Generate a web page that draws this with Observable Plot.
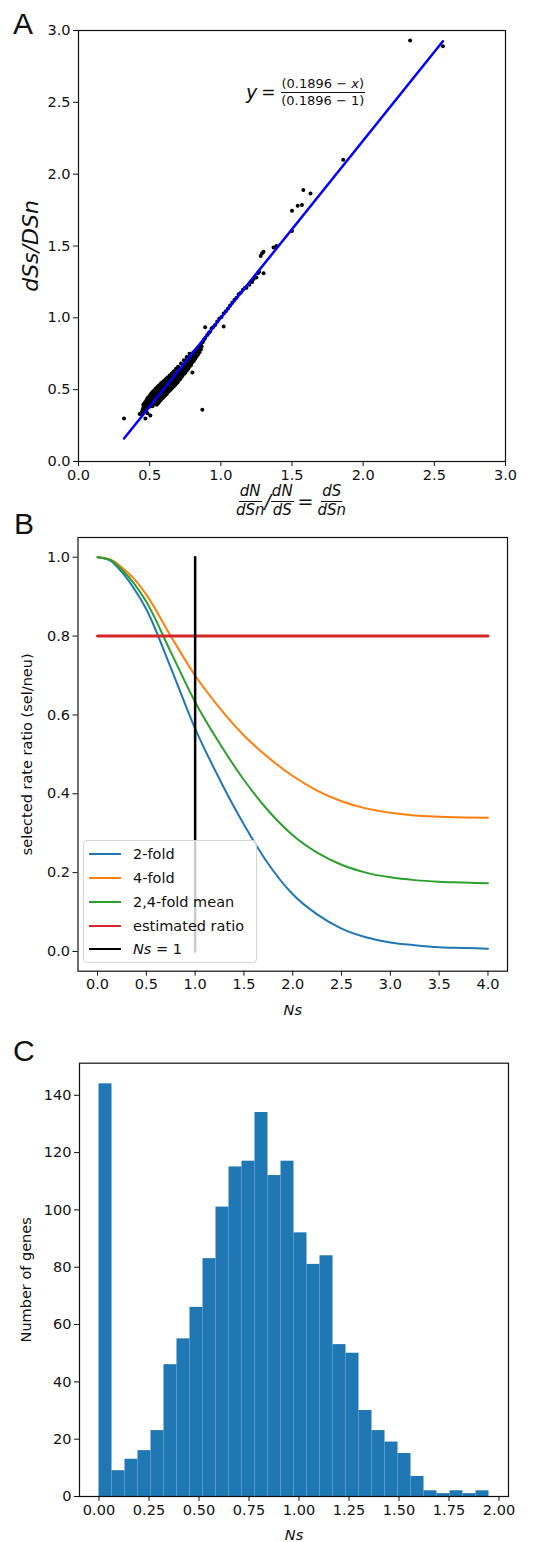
<!DOCTYPE html>
<html><head><meta charset="utf-8">
<script src="https://cdn.jsdelivr.net/npm/d3@7"></script>
<script src="https://cdn.jsdelivr.net/npm/@observablehq/plot@0.6"></script>
<style>
body{margin:0;background:#fff;}
#wrap{position:relative;width:533px;height:1542px;font-family:"DejaVu Sans",sans-serif;color:#111;overflow:hidden;}
.panel{position:absolute;left:0;}
.letter{position:absolute;font-family:"Liberation Sans",Arial,sans-serif;font-size:30px;line-height:1;color:#111;}
.frac{display:inline-flex;flex-direction:column;align-items:center;vertical-align:middle;}
.frac .n{border-bottom:1px solid #111;padding:0 1px 1px;line-height:1.05;}
.frac .d{padding-top:1px;line-height:1.05;}
.legend{position:absolute;left:83px;top:840px;width:172px;height:121px;border:1px solid #d4d4d4;border-radius:4px;background:rgba(255,255,255,0.8);font-size:14.5px;}
.legend .row{position:absolute;left:5px;height:24px;display:flex;align-items:center;white-space:nowrap;}
.legend .sw{display:inline-block;width:32px;height:0;border-top:2px solid;margin-right:12px;}
</style>
</head><body>
<div id="wrap">
  <div id="pa" class="panel" style="top:0"></div>
  <div id="pb" class="panel" style="top:520px"></div>
  <div id="pc" class="panel" style="top:1030px"></div>
  <div class="letter" style="left:13px;top:9px">A</div>
  <div class="letter" style="left:14px;top:509px">B</div>
  <div class="letter" style="left:13px;top:1036px">C</div>
  <div id="eqA" style="position:absolute;left:246px;top:77px;white-space:nowrap;color:#111;">
    <i style="font-size:19px;vertical-align:middle">y</i><span style="font-size:17px;vertical-align:middle;margin:0 5px 0 4px">=</span><span class="frac" style="font-size:13px"><span class="n">(0.1896 − <i>x</i>)</span><span class="d">(0.1896 − 1)</span></span>
  </div>
  <div id="xlabA" style="position:absolute;left:191px;width:200px;top:484px;text-align:center;white-space:nowrap;font-style:italic;font-size:15px;color:#111;">
    <span class="frac"><span class="n">dN</span><span class="d">dSn</span></span><span style="font-size:19px;vertical-align:middle">/</span><span class="frac"><span class="n">dN</span><span class="d">dS</span></span><span style="font-style:normal;font-size:19px;vertical-align:middle;margin:0 4px">=</span><span class="frac"><span class="n">dS</span><span class="d">dSn</span></span>
  </div>
  <div class="legend">
    <div class="row" style="top:1px"><span class="sw" style="border-color:#1f77b4"></span>2-fold</div>
    <div class="row" style="top:25px"><span class="sw" style="border-color:#ff7f0e"></span>4-fold</div>
    <div class="row" style="top:49px"><span class="sw" style="border-color:#2ca02c"></span>2,4-fold mean</div>
    <div class="row" style="top:72.5px"><span class="sw" style="border-color:#d62728"></span>estimated ratio</div>
    <div class="row" style="top:96px"><span class="sw" style="border-color:#000"></span><i>Ns</i>&nbsp;= 1</div>
  </div>
</div>
<script>
// ---------- Panel A data ----------
const ticksA = [0, 0.5, 1, 1.5, 2, 2.5, 3];
const fitX = [0.32, 2.56];
const fitY = [0.16, 2.925];
const genePoints = [
[0.440,0.330],[0.445,0.345],[0.450,0.360],[0.452,0.338],[0.455,0.372],[0.458,0.350],[0.460,0.385],[0.463,0.362],[0.466,0.395],[0.468,0.372],[0.470,0.352],[0.472,0.405],[0.475,0.382],[0.478,0.415],[0.480,0.365],[0.483,0.398],[0.486,0.425],[0.488,0.378],[0.492,0.410],[0.495,0.432],[0.498,0.392],
[0.500,0.445],[0.502,0.405],[0.504,0.382],[0.506,0.428],[0.508,0.452],[0.510,0.415],[0.512,0.395],[0.514,0.440],[0.516,0.462],[0.518,0.425],[0.520,0.405],[0.522,0.448],[0.524,0.470],[0.526,0.435],[0.528,0.415],[0.530,0.458],[0.532,0.478],[0.534,0.442],[0.536,0.420],[0.538,0.465],[0.540,0.488],[0.542,0.452],[0.544,0.428],[0.546,0.472],[0.548,0.495],[0.550,0.460],[0.510,0.470],[0.520,0.385],[0.530,0.400],[0.540,0.410],[0.535,0.455],[0.545,0.442],[0.525,0.452],[0.515,0.425],[0.505,0.395],
[0.552,0.482],[0.554,0.438],[0.556,0.465],[0.558,0.500],[0.560,0.448],[0.562,0.472],[0.564,0.492],[0.566,0.455],[0.568,0.430],[0.570,0.480],[0.572,0.505],[0.574,0.462],[0.576,0.440],[0.578,0.488],[0.580,0.512],[0.582,0.470],[0.584,0.448],[0.586,0.495],[0.588,0.518],[0.590,0.478],[0.592,0.455],[0.594,0.502],[0.596,0.525],[0.598,0.485],[0.600,0.462],[0.555,0.455],[0.565,0.475],[0.575,0.485],[0.585,0.480],[0.595,0.490],[0.560,0.490],[0.570,0.458],[0.580,0.495],[0.590,0.500],[0.600,0.515],[0.578,0.452],[0.588,0.468],[0.598,0.470],[0.568,0.468],[0.558,0.472],
[0.602,0.510],[0.604,0.532],[0.606,0.490],[0.608,0.468],[0.610,0.518],[0.612,0.540],[0.614,0.498],[0.616,0.475],[0.618,0.526],[0.620,0.548],[0.622,0.505],[0.624,0.482],[0.626,0.534],[0.628,0.555],[0.630,0.512],[0.632,0.490],[0.634,0.542],[0.636,0.562],[0.638,0.520],[0.640,0.498],[0.642,0.550],[0.644,0.570],[0.646,0.528],[0.648,0.505],[0.650,0.556],[0.605,0.520],[0.615,0.512],[0.625,0.522],[0.635,0.530],[0.645,0.545],[0.610,0.495],[0.620,0.528],[0.630,0.538],[0.640,0.525],[0.650,0.535],[0.608,0.528],[0.618,0.505],[0.628,0.520],[0.638,0.548],[0.648,0.552],
[0.652,0.578],[0.654,0.535],[0.656,0.512],[0.658,0.565],[0.660,0.585],[0.662,0.543],[0.664,0.520],[0.666,0.572],[0.668,0.592],[0.670,0.550],[0.672,0.528],[0.674,0.580],[0.676,0.600],[0.678,0.558],[0.680,0.535],[0.682,0.588],[0.684,0.608],[0.686,0.566],[0.688,0.544],[0.690,0.596],[0.692,0.616],[0.694,0.574],[0.696,0.552],[0.698,0.604],[0.700,0.624],[0.655,0.560],[0.665,0.558],[0.675,0.565],[0.685,0.582],[0.695,0.590],[0.660,0.570],[0.670,0.575],[0.680,0.595],[0.690,0.580],[0.700,0.600],
[0.702,0.582],[0.705,0.610],[0.708,0.635],[0.710,0.595],[0.713,0.620],[0.716,0.645],[0.719,0.602],[0.722,0.630],[0.725,0.655],[0.728,0.612],[0.731,0.640],[0.734,0.665],[0.737,0.622],[0.740,0.650],[0.743,0.675],[0.746,0.632],[0.749,0.660],[0.712,0.570],[0.724,0.590],[0.736,0.645],[0.745,0.612],[0.718,0.628],[0.730,0.625],[0.742,0.655],[0.707,0.598],
[0.752,0.685],[0.755,0.705],[0.758,0.655],[0.762,0.690],[0.765,0.712],[0.768,0.668],[0.772,0.700],[0.775,0.722],[0.778,0.680],[0.782,0.712],[0.785,0.735],[0.788,0.690],[0.792,0.722],[0.795,0.745],[0.798,0.700],[0.760,0.640],[0.770,0.650],[0.790,0.672],
[0.802,0.735],[0.806,0.758],[0.810,0.720],[0.815,0.750],[0.820,0.772],[0.825,0.735],[0.830,0.765],[0.835,0.790],[0.840,0.760],[0.845,0.795],
[0.852,0.780],[0.858,0.815],[0.865,0.800],[0.872,0.830],[0.880,0.845],[0.890,0.860],
[0.905,0.880],[0.915,0.895],[0.925,0.905],[0.935,0.925],[0.945,0.935],[0.960,0.950],[0.975,0.975],[0.990,0.995],
[1.005,1.005],[1.020,1.030],[1.035,1.045],[1.050,1.065],[1.065,1.085],[1.080,1.105],[1.095,1.125],[1.110,1.140],[1.125,1.165],[1.140,1.175],[1.155,1.195],[1.170,1.210],
[0.455,0.395],[0.462,0.405],[0.470,0.415],[0.478,0.428],[0.485,0.440],[0.492,0.448],[0.500,0.458],[0.508,0.468],[0.516,0.478],[0.524,0.488],[0.532,0.495],[0.540,0.505],[0.548,0.512],[0.556,0.520],[0.564,0.528],[0.572,0.535],[0.580,0.545],[0.590,0.552],[0.600,0.560],[0.612,0.572],[0.625,0.585],[0.640,0.598],[0.655,0.612],[0.670,0.628],[0.685,0.645],[0.700,0.660],[0.720,0.682],[0.740,0.705],[0.760,0.728],[0.780,0.750],
[0.550,0.395],[0.560,0.405],[0.570,0.420],[0.580,0.430],[0.590,0.440],[0.600,0.450],[0.610,0.462],[0.620,0.470],[0.630,0.485],[0.640,0.492],[0.650,0.505],[0.660,0.515],[0.670,0.525],[0.680,0.538],[0.690,0.548],[0.700,0.560],[0.710,0.572],[0.720,0.585],[0.730,0.595],[0.740,0.610],[0.750,0.620],[0.760,0.632],[0.770,0.645],[0.780,0.660],[0.790,0.672],[0.800,0.690],[0.810,0.700],[0.820,0.715],[0.830,0.730],[0.840,0.745],[0.850,0.760],[0.860,0.780],
[0.32,0.30],[0.43,0.33],[0.47,0.30],[0.485,0.335],[0.505,0.32],[0.87,0.36],[0.80,0.62],[0.89,0.935],[1.02,0.94],
[1.18,1.21],[1.20,1.23],[1.22,1.25],[1.23,1.27],[1.25,1.28],[1.26,1.31],[1.27,1.32],[1.30,1.31],[1.28,1.43],[1.29,1.45],[1.30,1.46],[1.37,1.49],[1.39,1.50],[1.50,1.605],[1.50,1.745],[1.54,1.78],[1.57,1.785],[1.58,1.89],[1.63,1.865],[1.86,2.10],[2.33,2.93],[2.56,2.89]
];

// ---------- Panel B data ----------
const nsGrid   = [0, 0.125, 0.25, 0.375, 0.5, 0.75, 1.0, 1.25, 1.5, 1.75, 2.0, 2.25, 2.5, 2.75, 3.0, 3.25, 3.5, 3.75, 4.0];
const twoFold  = [1.0, 0.992, 0.962, 0.920, 0.868, 0.720, 0.565, 0.437, 0.322, 0.222, 0.145, 0.094, 0.058, 0.036, 0.023, 0.016, 0.011, 0.009, 0.007];
const fourFold = [1.0, 0.995, 0.974, 0.945, 0.905, 0.800, 0.700, 0.618, 0.548, 0.492, 0.445, 0.408, 0.381, 0.363, 0.352, 0.345, 0.342, 0.340, 0.339];
const meanFold = [1.0, 0.994, 0.968, 0.933, 0.887, 0.760, 0.633, 0.528, 0.435, 0.357, 0.295, 0.251, 0.220, 0.200, 0.188, 0.181, 0.177, 0.175, 0.173];
const estRatioX = [0, 4];
const estRatioY = [0.8, 0.8];
const nsOneX = [1, 1];
const nsOneY = [0, 1];
const ticksBx = [0, 0.5, 1, 1.5, 2, 2.5, 3, 3.5, 4];
const ticksBy = [0, 0.2, 0.4, 0.6, 0.8, 1.0];

// ---------- Panel C data ----------
const binEdges = [0, 0.065, 0.13, 0.195, 0.26, 0.325, 0.39, 0.455, 0.52, 0.585, 0.65, 0.715, 0.78, 0.845, 0.91, 0.975, 1.04, 1.105, 1.17, 1.235, 1.3, 1.365, 1.43, 1.495, 1.56, 1.625, 1.69, 1.755, 1.82, 1.885, 1.95];
const geneCounts = [144, 9, 13, 16, 23, 46, 55, 66, 83, 101, 115, 117, 134, 112, 117, 92, 81, 84, 53, 50, 30, 23, 19, 15, 7, 2, 1, 2, 1, 2];
const ticksCx = [0, 0.25, 0.5, 0.75, 1.0, 1.25, 1.5, 1.75, 2.0];
const ticksCy = [0, 20, 40, 60, 80, 100, 120, 140];

const baseStyle = {fontFamily: "DejaVu Sans", fontSize: "14.5px", color: "#111", background: "white", overflow: "visible"};
const f1 = d3.format(".1f"), f2 = d3.format(".2f"), f0 = d3.format("d");

// Panel A
const pts = genePoints.map(([x, y]) => ({x, y}));
const fit = fitX.map((x, i) => ({x, y: fitY[i]}));
const plotA = Plot.plot({
  width: 533, height: 520,
  marginTop: 30, marginBottom: 59, marginLeft: 78, marginRight: 28,
  style: baseStyle,
  x: {domain: [0, 3], label: null},
  y: {domain: [0, 3], label: null},
  marks: [
    Plot.dot(pts, {x: "x", y: "y", r: 2, fill: "#000", stroke: "none"}),
    Plot.line(fit, {x: "x", y: "y", stroke: "#0000ff", strokeWidth: 2.5}),
    Plot.frame({stroke: "#111", strokeWidth: 1.2}),
    Plot.axisX({ticks: ticksA, tickFormat: f1, tickSize: 5, tickPadding: 3, label: null}),
    Plot.axisY({ticks: ticksA, tickFormat: f1, tickSize: 5, tickPadding: 3, label: null}),
    Plot.text(["dSs/DSn"], {frameAnchor: "left", textAnchor: "middle", lineAnchor: "middle", rotate: -90, dx: -48, fontSize: 22, fontStyle: "italic"})
  ]
});
document.getElementById("pa").appendChild(plotA);

// Panel B
const seriesB = [
  {name: "2-fold", vals: twoFold, color: "#1f77b4"},
  {name: "4-fold", vals: fourFold, color: "#ff7f0e"},
  {name: "2,4-fold mean", vals: meanFold, color: "#2ca02c"}
];
const curveMarks = seriesB.map(s => Plot.line(nsGrid.map((n, i) => ({n, v: s.vals[i]})), {x: "n", y: "v", stroke: s.color, strokeWidth: 2, curve: "monotone-x"}));
const plotB = Plot.plot({
  width: 533, height: 510,
  marginTop: 17, marginBottom: 59.3, marginLeft: 77.5, marginRight: 26,
  style: baseStyle,
  x: {domain: [-0.2, 4.2], label: null},
  y: {domain: [-0.05, 1.05], label: null},
  marks: [
    ...curveMarks,
    Plot.line(estRatioX.map((x, i) => ({x, y: estRatioY[i]})), {x: "x", y: "y", stroke: "#d62728", strokeWidth: 3}),
    Plot.line(nsOneX.map((x, i) => ({x, y: nsOneY[i]})), {x: "x", y: "y", stroke: "#000", strokeWidth: 2.5}),
    Plot.frame({stroke: "#111", strokeWidth: 1.2}),
    Plot.axisX({ticks: ticksBx, tickFormat: f1, tickSize: 5, tickPadding: 3, label: null}),
    Plot.axisY({ticks: ticksBy, tickFormat: f1, tickSize: 5, tickPadding: 3, label: null}),
    Plot.text(["selected rate ratio (sel/neu)"], {frameAnchor: "left", textAnchor: "middle", lineAnchor: "middle", rotate: -90, dx: -51, fontSize: 14.5}),
    Plot.text(["Ns"], {frameAnchor: "bottom", lineAnchor: "middle", dy: 39, fontSize: 14.5, fontStyle: "italic"})
  ]
});
document.getElementById("pb").appendChild(plotB);

// Panel C
const bins = geneCounts.map((c, i) => ({x1: binEdges[i], x2: binEdges[i + 1], c}));
const plotC = Plot.plot({
  width: 533, height: 512,
  marginTop: 32.7, marginBottom: 46, marginLeft: 79, marginRight: 25,
  style: baseStyle,
  x: {domain: [-0.0975, 2.0475], label: null},
  y: {domain: [0, 151.2], label: null},
  marks: [
    Plot.rect(bins, {x1: "x1", x2: "x2", y1: d => 0, y2: "c", fill: "#1f77b4", inset: 0}),
    Plot.frame({stroke: "#111", strokeWidth: 1.2}),
    Plot.axisX({ticks: ticksCx, tickFormat: f2, tickSize: 5, tickPadding: 3, label: null}),
    Plot.axisY({ticks: ticksCy, tickFormat: f0, tickSize: 5, tickPadding: 3, label: null}),
    Plot.text(["Number of genes"], {frameAnchor: "left", textAnchor: "middle", lineAnchor: "middle", rotate: -90, dx: -53, fontSize: 14.5}),
    Plot.text(["Ns"], {frameAnchor: "bottom", lineAnchor: "middle", dy: 39, fontSize: 14.5, fontStyle: "italic"})
  ]
});
document.getElementById("pc").appendChild(plotC);
</script>
</body></html>
